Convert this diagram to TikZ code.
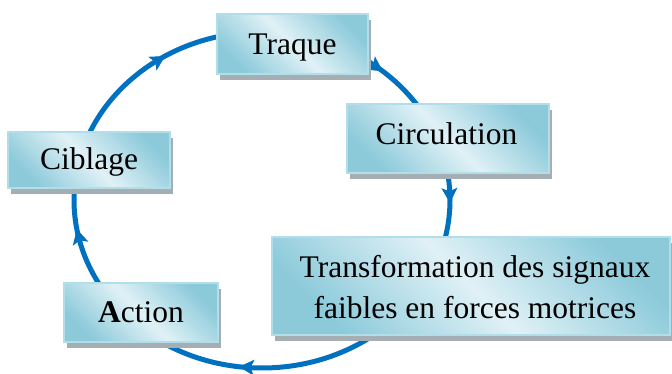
\documentclass[tikz,border=0pt]{standalone}
\usepackage{fontspec}
\setmainfont{Liberation Serif}
\usetikzlibrary{arrows.meta,shadows}
\definecolor{ringblue}{RGB}{0,112,192}
\definecolor{boxdark}{RGB}{140,202,218}
\definecolor{boxlight}{RGB}{224,241,246}
\definecolor{boxedge}{RGB}{178,222,234}
\definecolor{shadowgray}{RGB}{165,174,178}
\begin{document}
\begin{tikzpicture}[x=1pt,y=1pt,
  box/.style={draw=boxedge, line width=1.5pt,
    top color=boxdark, bottom color=boxdark, middle color=boxlight, shading angle=-45,
    inner sep=0pt,
    general shadow={shadow xshift=3pt, shadow yshift=-6pt, fill=shadowgray}},
  lbl/.style={font=\fontsize{31.5}{40}\selectfont, anchor=base, inner sep=0pt},
  ring/.style={draw=ringblue, line width=5pt},
  tip/.style={draw=ringblue, fill=ringblue, line width=1pt,
    -{Stealth[length=15pt,width=16pt,inset=3.5pt]}}
]
\useasboundingbox (0,0) rectangle (672,374);

% the cycle
\draw[ring] (262,174) ellipse [x radius=188, y radius=168];

% arrow heads along the cycle (clockwise)
\foreach \a/\b in {127/121, 196/190, 269/263, 5/-1, 56/50}
  \draw[tip] ({262+188*cos(\a)},{174+168*sin(\a)}) -- ({262+188*cos(\b)},{174+168*sin(\b)});

% boxes
\node[box, minimum width=151pt, minimum height=60pt] (traque) at (292.5,330) {};
\node[box, minimum width=202pt, minimum height=69pt] (circ) at (448,235.5) {};
\node[box, minimum width=162pt, minimum height=56pt] (cibl) at (89,214) {};
\node[box, minimum width=154pt, minimum height=59pt] (action) at (141,61.5) {};
\node[box, minimum width=398pt, minimum height=98pt] (transf) at (471,88) {};

% labels
\node[lbl] (traque-t) at (292.5,319) {Traque};
\node[lbl] (circ-t) at (446.5,229) {Circulation};
\node[lbl] (cibl-t) at (89,204) {Ciblage};
\node[lbl] (action-t) at (141,51) {\textbf{A}ction};
\node[lbl] (transf-t1) at (475,96) {Transformation des signaux};
\node[lbl] (transf-t2) at (475,55) {faibles en forces motrices};
\end{tikzpicture}
\end{document}
